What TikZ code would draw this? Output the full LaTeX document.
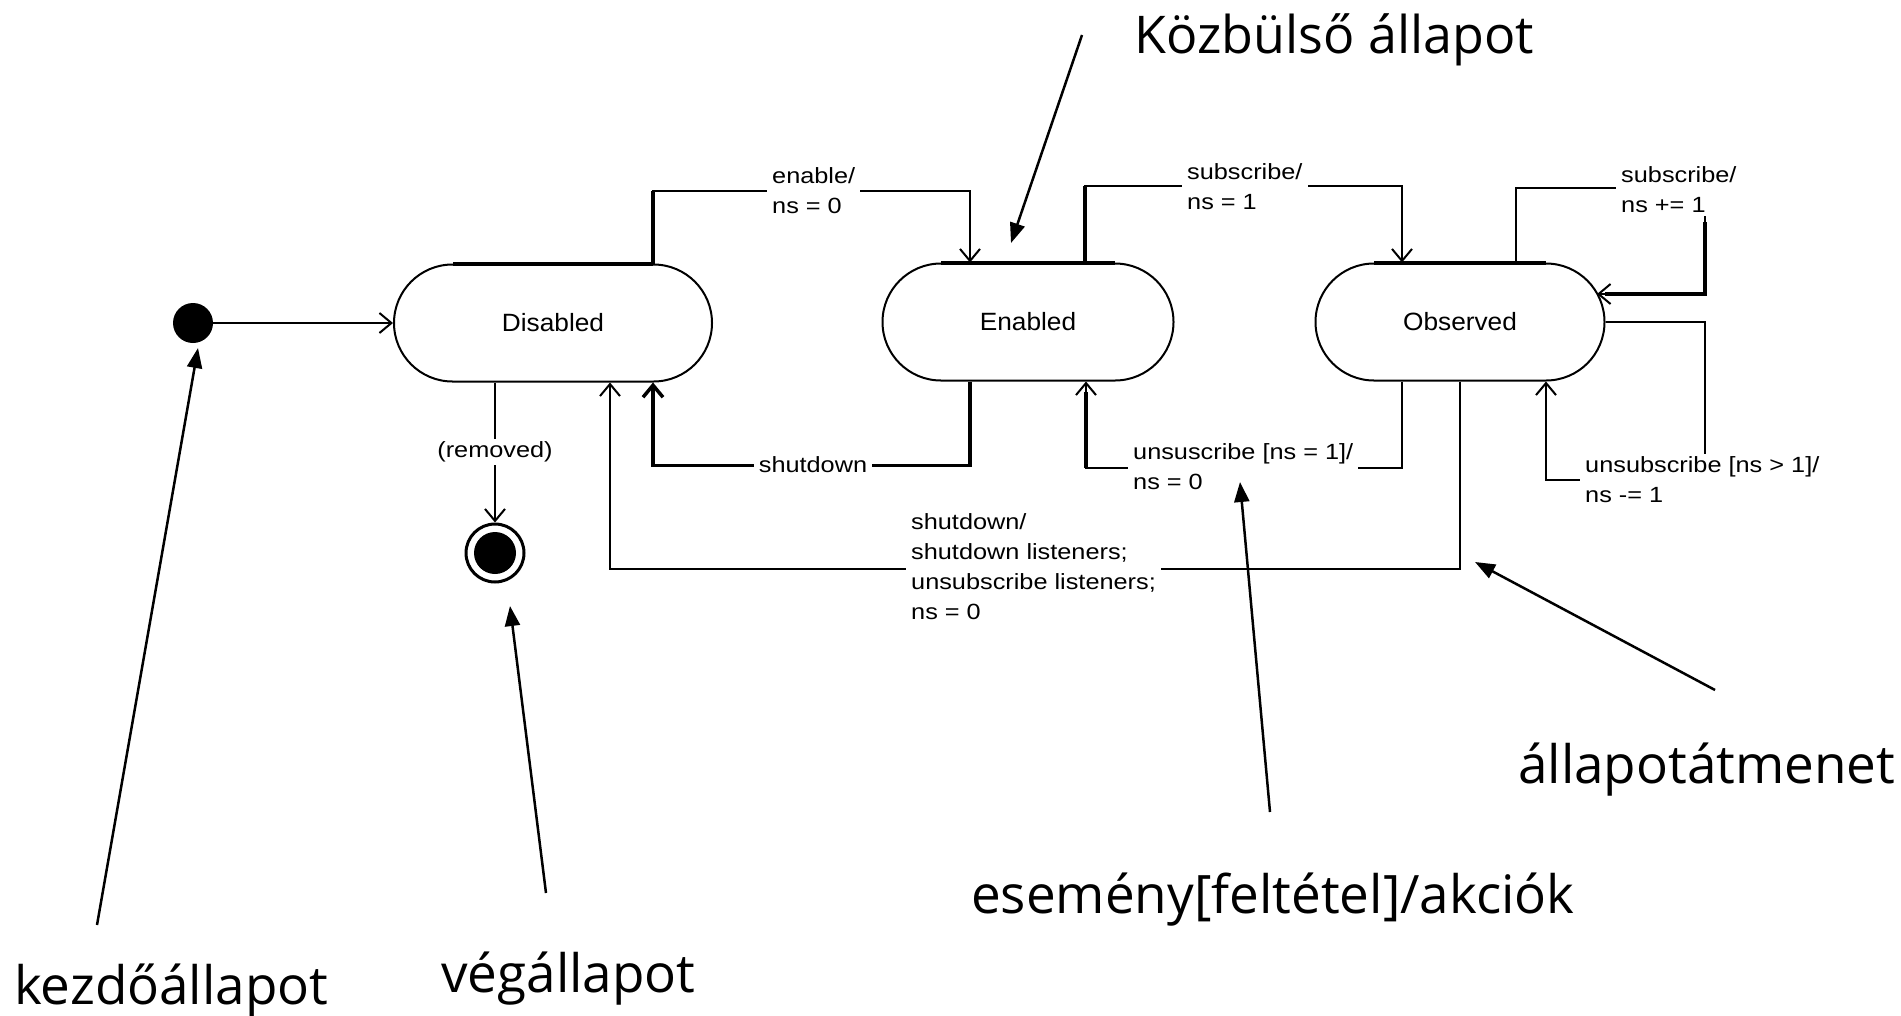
\documentclass[tikz,border=0pt]{standalone}
\usepackage{fontspec}
\setmainfont{Open Sans}
\newfontfamily\lblfont[FakeStretch=1.15]{Liberation Sans}
\newfontfamily\statefont[FakeStretch=1.05]{Liberation Sans}
\usetikzlibrary{arrows.meta,shapes.misc}
\begin{document}
\begin{tikzpicture}[x=1pt,y=-1pt,
  state/.style={draw, rounded rectangle, line width=2pt, minimum height=117pt, inner sep=0pt,
    font=\statefont\fontsize{25pt}{30pt}\selectfont},
  trans/.style={line width=2pt, -{Straight Barb[length=12pt,width=20pt]}},
  heavy/.style={line width=4pt},
  lbl/.style={fill=white, inner xsep=5pt, inner ysep=3pt, align=left,
    font=\lblfont\fontsize{22pt}{30pt}\selectfont},
  note/.style={font=\fontsize{53pt}{62pt}\selectfont, inner sep=0pt, anchor=base west},
  pointer/.style={line width=2.5pt, -{Triangle[length=20pt,width=15pt]}}
]
\useasboundingbox (0,0) rectangle (1901,1015);

% states
\node[state, minimum width=318pt] (dis) at (553,323) {Disabled};
\node[state, minimum width=291pt] (ena) at (1028,322) {Enabled};
\node[state, minimum width=289pt] (obs) at (1460,322) {Observed};
\draw[heavy] ([xshift=-100pt]dis.north) -- ([xshift=100pt]dis.north);
\draw[heavy] ([xshift=-87pt]ena.north) -- ([xshift=87pt]ena.north);
\draw[heavy] ([xshift=-86pt]obs.north) -- ([xshift=86pt]obs.north);

% initial and final states
\node[circle, fill, minimum size=40pt, inner sep=0pt] (ini) at (193,323) {};
\node[circle, draw, line width=3pt, minimum size=58pt, inner sep=0pt] (fin) at (495,553) {};
\node[circle, fill, minimum size=42pt, inner sep=0pt] (finc) at (fin.center) {};

\coordinate (obsR) at (1597,294);

% transitions
\draw[trans] (ini) -- (dis);
\draw[trans] ([xshift=100pt]dis.north) -- ++(0,-73) -| ([xshift=-58pt]ena.north);
\draw[heavy] ([xshift=100pt]dis.north) -- ++(0,-73);
\draw[trans] ([xshift=57pt]ena.north) -- ++(0,-77) -| ([xshift=-58pt]obs.north);
\draw[heavy] ([xshift=57pt]ena.north) -- ++(0,-77);
\draw[trans] ([xshift=56pt]obs.north) -- ++(0,-75) -| (1705,294) -- (obsR);
\draw[heavy] (1705,222) -- (1705,294) -- ([xshift=8pt]obsR);
\draw[trans] (obs.east) -| (1705,480) -| ([xshift=86pt]obs.south);
\draw[trans] ([xshift=-58pt]obs.south) -- ++(0,86) -| ([xshift=58pt]ena.south);
\draw[heavy] ([xshift=58pt]ena.south) ++(0,86) -- ++(0,-76);
\draw[trans, line width=3.5pt] ([xshift=-58pt]ena.south) -- ++(0,84) -| ([xshift=100pt]dis.south);
\draw[trans] (obs.south) -- ++(0,187) -| ([xshift=57pt]dis.south);
\draw[trans] ([xshift=-58pt]dis.south) -- (fin);

% transition labels
\node[lbl, anchor=west] (lenable) at (767,191) {enable/\\ns = 0};
\node[lbl, anchor=west] (lsub) at (1182,187) {subscribe/\\ns = 1};
\node[lbl, anchor=west] (lsubp) at (1616,190) {subscribe/\\ns += 1};
\node[lbl, anchor=west] (lunsg) at (1580,480) {unsubscribe [ns > 1]/\\ns -= 1};
\node[lbl, anchor=west] (luns1) at (1128,467) {unsuscribe [ns = 1]/\\ns = 0};
\node[lbl] (lshut) at (813,465) {shutdown};
\node[lbl, anchor=west] (lshutall) at (906,567) {shutdown/\\shutdown listeners;\\unsubscribe listeners;\\ns = 0};
\node[lbl] (lrem) at (495,452) {(removed)};

% annotations
\node[note, font=\fontsize{52pt}{62pt}\selectfont] (kozb) at (1134,53) {Közbülső állapot};
\node[note] (kezd) at (14,1004) {kezdőállapot};
\node[note] (veg) at (441,992) {végállapot};
\node[note] (esem) at (971,913) {esemény[feltétel]/akciók};
\node[note] (atm) at (1518,783) {állapotátmenet};

\coordinate (kozbT) at (1082,35);  \coordinate (kozbH) at (1011,243);
\coordinate (kezdT) at (97,925);   \coordinate (kezdH) at (198,348);
\coordinate (vegT) at (546,893);   \coordinate (vegH) at (510,606);
\coordinate (esemT) at (1270,812); \coordinate (esemH) at (1240,482);
\coordinate (atmT) at (1715,690);  \coordinate (atmH) at (1475,562);
\draw[pointer] (kozbT) -- (kozbH);
\draw[pointer] (kezdT) -- (kezdH);
\draw[pointer] (vegT) -- (vegH);
\draw[pointer] (esemT) -- (esemH);
\draw[pointer] (atmT) -- (atmH);
\end{tikzpicture}
\end{document}
